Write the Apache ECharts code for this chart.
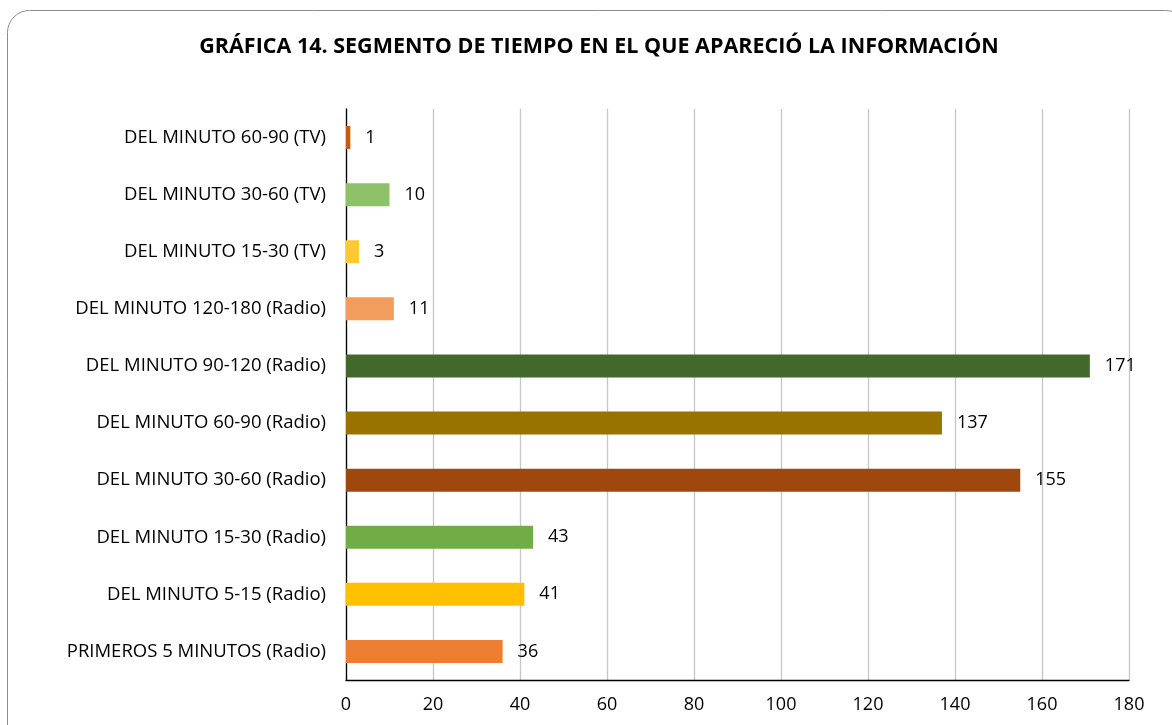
<!DOCTYPE html>
<html><head><meta charset="utf-8">
<script src="https://cdn.jsdelivr.net/npm/echarts@6/dist/echarts.min.js"></script>
<style>html,body{margin:0;padding:0;background:#fff}#c{width:1172px;height:725px}</style>
</head><body><div id="c"></div>
<script>
const categories = [
  'PRIMEROS 5 MINUTOS (Radio)',
  'DEL MINUTO 5-15 (Radio)',
  'DEL MINUTO 15-30 (Radio)',
  'DEL MINUTO 30-60 (Radio)',
  'DEL MINUTO 60-90 (Radio)',
  'DEL MINUTO 90-120 (Radio)',
  'DEL MINUTO 120-180 (Radio)',
  'DEL MINUTO 15-30 (TV)',
  'DEL MINUTO 30-60 (TV)',
  'DEL MINUTO 60-90 (TV)'
];
const values = [36, 41, 43, 155, 137, 171, 11, 3, 10, 1];
const barColors = ['#ED7D31','#FFC000','#70AD47','#9E480E','#997300','#43682B','#F29C5E','#FFC935','#8DC16A','#C55A11'];
const xTicks = [0,20,40,60,80,100,120,140,160,180];

const font = 'Open Sans';
const chart = echarts.init(document.getElementById('c'));
chart.setOption({
  animation: false,
  title: {
    text: 'GRÁFICA 14. SEGMENTO DE TIEMPO EN EL QUE APARECIÓ LA INFORMACIÓN',
    left: 594, top: 31, textAlign: 'center',
    textStyle: {fontFamily: font, fontWeight: 'bold', fontSize: 21.5, color: '#000'}
  },
  graphic: [{
    type: 'rect', shape: {x: 7.5, y: 10.5, width: 1180, height: 740, r: 22},
    style: {fill: 'none', stroke: '#8c8c8c', lineWidth: 1}, z: -1
  }],
  grid: {left: 346, right: 43, top: 109, bottom: 45, containLabel: false},
  xAxis: {
    type: 'value', min: xTicks[0], max: xTicks[xTicks.length-1], interval: 20,
    axisLine: {show: true, lineStyle: {color: '#000', width: 1.3}},
    axisTick: {show: false},
    splitLine: {show: true, lineStyle: {color: '#c6c6c6', width: 1.3}},
    axisLabel: {fontFamily: font, fontSize: 18, color: '#000', margin: 16}
  },
  yAxis: {
    type: 'category', data: categories,
    axisLine: {show: true, lineStyle: {color: '#000', width: 1.3}},
    axisTick: {show: false},
    axisLabel: {fontFamily: font, fontSize: 18.5, color: '#000', margin: 20}
  },
  series: [{
    type: 'bar',
    data: values.map((v, i) => ({value: v, itemStyle: {color: barColors[i]}})),
    barWidth: 23,
    label: {show: true, position: 'right', distance: 15, fontFamily: font, fontSize: 18, color: '#000'}
  }]
});
</script></body></html>
